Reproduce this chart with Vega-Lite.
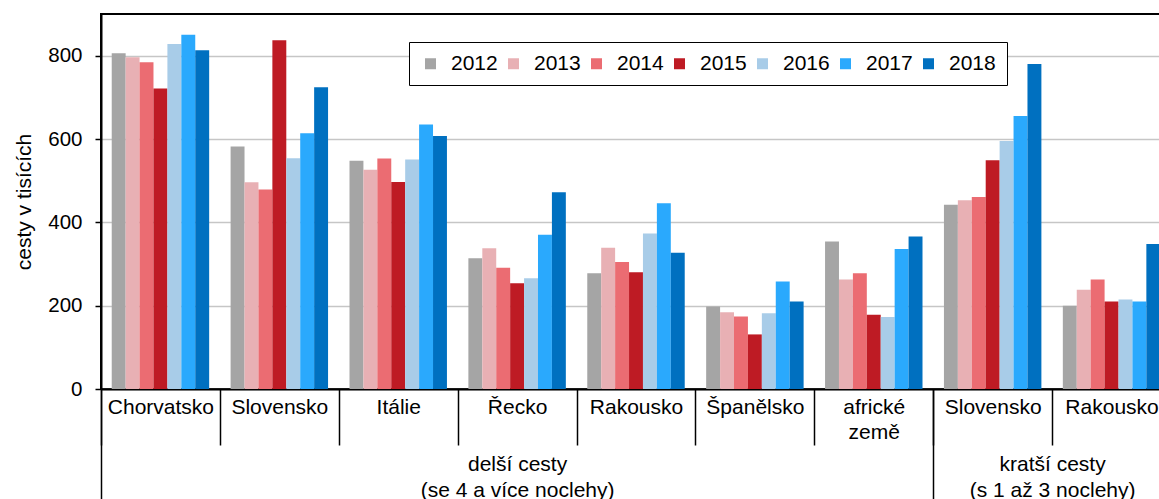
{
  "$schema": "https://vega.github.io/schema/vega-lite/v6.json",
  "autosize": {"type": "none"},
  "width": 1070,
  "height": 375,
  "padding": {"left": 101, "top": 14, "right": -12, "bottom": 110},
  "config": {
    "font": "Liberation Sans",
    "view": {"stroke": "black", "strokeWidth": 2}
  },
  "datasets": {
    "cesty": [
      {"key": "delší|Chorvatsko", "rok": "2012", "hodnota": 806},
      {"key": "delší|Chorvatsko", "rok": "2013", "hodnota": 796},
      {"key": "delší|Chorvatsko", "rok": "2014", "hodnota": 784},
      {"key": "delší|Chorvatsko", "rok": "2015", "hodnota": 721},
      {"key": "delší|Chorvatsko", "rok": "2016", "hodnota": 828},
      {"key": "delší|Chorvatsko", "rok": "2017", "hodnota": 850},
      {"key": "delší|Chorvatsko", "rok": "2018", "hodnota": 813},
      {"key": "delší|Slovensko", "rok": "2012", "hodnota": 582},
      {"key": "delší|Slovensko", "rok": "2013", "hodnota": 496},
      {"key": "delší|Slovensko", "rok": "2014", "hodnota": 479},
      {"key": "delší|Slovensko", "rok": "2015", "hodnota": 837},
      {"key": "delší|Slovensko", "rok": "2016", "hodnota": 554},
      {"key": "delší|Slovensko", "rok": "2017", "hodnota": 614},
      {"key": "delší|Slovensko", "rok": "2018", "hodnota": 724},
      {"key": "delší|Itálie", "rok": "2012", "hodnota": 548},
      {"key": "delší|Itálie", "rok": "2013", "hodnota": 526},
      {"key": "delší|Itálie", "rok": "2014", "hodnota": 553},
      {"key": "delší|Itálie", "rok": "2015", "hodnota": 497},
      {"key": "delší|Itálie", "rok": "2016", "hodnota": 551},
      {"key": "delší|Itálie", "rok": "2017", "hodnota": 635},
      {"key": "delší|Itálie", "rok": "2018", "hodnota": 607},
      {"key": "delší|Řecko", "rok": "2012", "hodnota": 314},
      {"key": "delší|Řecko", "rok": "2013", "hodnota": 338},
      {"key": "delší|Řecko", "rok": "2014", "hodnota": 291},
      {"key": "delší|Řecko", "rok": "2015", "hodnota": 254},
      {"key": "delší|Řecko", "rok": "2016", "hodnota": 266},
      {"key": "delší|Řecko", "rok": "2017", "hodnota": 370},
      {"key": "delší|Řecko", "rok": "2018", "hodnota": 472},
      {"key": "delší|Rakousko", "rok": "2012", "hodnota": 278},
      {"key": "delší|Rakousko", "rok": "2013", "hodnota": 339},
      {"key": "delší|Rakousko", "rok": "2014", "hodnota": 305},
      {"key": "delší|Rakousko", "rok": "2015", "hodnota": 280},
      {"key": "delší|Rakousko", "rok": "2016", "hodnota": 373},
      {"key": "delší|Rakousko", "rok": "2017", "hodnota": 446},
      {"key": "delší|Rakousko", "rok": "2018", "hodnota": 327},
      {"key": "delší|Španělsko", "rok": "2012", "hodnota": 198},
      {"key": "delší|Španělsko", "rok": "2013", "hodnota": 184},
      {"key": "delší|Španělsko", "rok": "2014", "hodnota": 174},
      {"key": "delší|Španělsko", "rok": "2015", "hodnota": 131},
      {"key": "delší|Španělsko", "rok": "2016", "hodnota": 182},
      {"key": "delší|Španělsko", "rok": "2017", "hodnota": 258},
      {"key": "delší|Španělsko", "rok": "2018", "hodnota": 210},
      {"key": "delší|africké země", "rok": "2012", "hodnota": 354},
      {"key": "delší|africké země", "rok": "2013", "hodnota": 263},
      {"key": "delší|africké země", "rok": "2014", "hodnota": 278},
      {"key": "delší|africké země", "rok": "2015", "hodnota": 178},
      {"key": "delší|africké země", "rok": "2016", "hodnota": 173},
      {"key": "delší|africké země", "rok": "2017", "hodnota": 336},
      {"key": "delší|africké země", "rok": "2018", "hodnota": 366},
      {"key": "kratší|Slovensko", "rok": "2012", "hodnota": 442},
      {"key": "kratší|Slovensko", "rok": "2013", "hodnota": 453},
      {"key": "kratší|Slovensko", "rok": "2014", "hodnota": 461},
      {"key": "kratší|Slovensko", "rok": "2015", "hodnota": 549},
      {"key": "kratší|Slovensko", "rok": "2016", "hodnota": 595},
      {"key": "kratší|Slovensko", "rok": "2017", "hodnota": 655},
      {"key": "kratší|Slovensko", "rok": "2018", "hodnota": 780},
      {"key": "kratší|Rakousko", "rok": "2012", "hodnota": 200},
      {"key": "kratší|Rakousko", "rok": "2013", "hodnota": 238},
      {"key": "kratší|Rakousko", "rok": "2014", "hodnota": 263},
      {"key": "kratší|Rakousko", "rok": "2015", "hodnota": 210},
      {"key": "kratší|Rakousko", "rok": "2016", "hodnota": 215},
      {"key": "kratší|Rakousko", "rok": "2017", "hodnota": 210},
      {"key": "kratší|Rakousko", "rok": "2018", "hodnota": 348}
    ],
    "skupiny": [
      {"skupina": "delší cesty", "pocet": 7},
      {"skupina": "kratší cesty", "pocet": 2}
    ]
  },
  "layer": [
    {
      "data": {"name": "cesty"},
      "mark": {"type": "bar"},
      "encoding": {
        "x": {
          "field": "key",
          "type": "nominal",
          "sort": null,
          "scale": {"paddingInner": 0, "paddingOuter": 0},
          "axis": {
            "orient": "bottom",
            "title": null,
            "grid": false,
            "domainColor": "black",
            "domainWidth": 2,
            "ticks": true,
            "tickBand": "extent",
            "tickSize": 56,
            "tickColor": "black",
            "tickWidth": 1.5,
            "labelPadding": -48.6,
            "labelAngle": 0,
            "labelFontSize": 21,
            "labelLineHeight": 25,
            "labelColor": "black",
            "labelOverlap": false,
            "labelLimit": 0,
            "labelExpr": "datum.label ? split(split(datum.label, '|')[1], ' ') : ''"
          }
        },
        "xOffset": {
          "field": "rok",
          "type": "nominal",
          "scale": {"paddingInner": 0, "paddingOuter": 0.77}
        },
        "y": {
          "field": "hodnota",
          "type": "quantitative",
          "scale": {"domain": [0, 900], "nice": false},
          "axis": {
            "values": [0, 200, 400, 600, 800],
            "title": "cesty v tisících",
            "titleFontSize": 21,
            "titleFontWeight": "normal",
            "titleColor": "black",
            "titlePadding": 13,
            "labelFontSize": 20.5,
            "labelPadding": 13,
            "labelColor": "black",
            "tickSize": 6,
            "tickColor": "black",
            "tickWidth": 1.5,
            "domainColor": "black",
            "domainWidth": 2,
            "grid": true,
            "gridColor": "#c6c6c6",
            "gridWidth": 1.5
          }
        },
        "color": {
          "field": "rok",
          "type": "nominal",
          "scale": {"range": ["#a5a5a5", "#e8b0b4", "#eb6c72", "#be1b24", "#a8cce8", "#2aa9fd", "#0070c0"]},
          "legend": {
            "orient": "none",
            "legendX": 308,
            "legendY": 28,
            "direction": "horizontal",
            "columns": 7,
            "title": null,
            "symbolType": "square",
            "symbolSize": 121,
            "symbolStrokeWidth": 0,
            "symbolOpacity": 1,
            "labelFontSize": 21,
            "labelColor": "black",
            "labelOffset": 10,
            "columnPadding": 5,
            "padding": 11,
            "strokeColor": "black",
            "fillColor": "white"
          }
        }
      }
    },
    {
      "data": {"name": "skupiny"},
      "mark": {"type": "bar", "opacity": 0},
      "encoding": {
        "x": {
          "field": "pocet",
          "type": "quantitative",
          "stack": "zero",
          "scale": {"nice": false, "zero": true},
          "axis": {
            "orient": "bottom",
            "title": null,
            "grid": false,
            "domain": false,
            "labels": false,
            "values": [0, 7],
            "ticks": true,
            "tickSize": 115,
            "tickColor": "black",
            "tickWidth": 1.5
          }
        },
        "detail": {"field": "skupina", "type": "nominal"}
      }
    },
    {
      "data": {"name": "skupiny"},
      "mark": {"type": "bar", "opacity": 0},
      "encoding": {
        "x": {
          "field": "pocet",
          "type": "quantitative",
          "stack": "zero",
          "scale": {"nice": false, "zero": true},
          "axis": {
            "orient": "bottom",
            "title": null,
            "grid": false,
            "domain": false,
            "ticks": false,
            "values": [3.5, 8],
            "labelPadding": 64.4,
            "labelFontSize": 21,
            "labelLineHeight": 26.5,
            "labelColor": "black",
            "labelFlush": false,
            "labelOverlap": false,
            "labelLimit": 0,
            "labelExpr": "datum.value < 7 ? ['delší cesty', '(se 4 a více noclehy)'] : ['kratší cesty', '(s 1 až 3 noclehy)']"
          }
        },
        "detail": {"field": "skupina", "type": "nominal"}
      }
    }
  ],
  "resolve": {"scale": {"x": "independent"}, "axis": {"x": "independent"}}
}
